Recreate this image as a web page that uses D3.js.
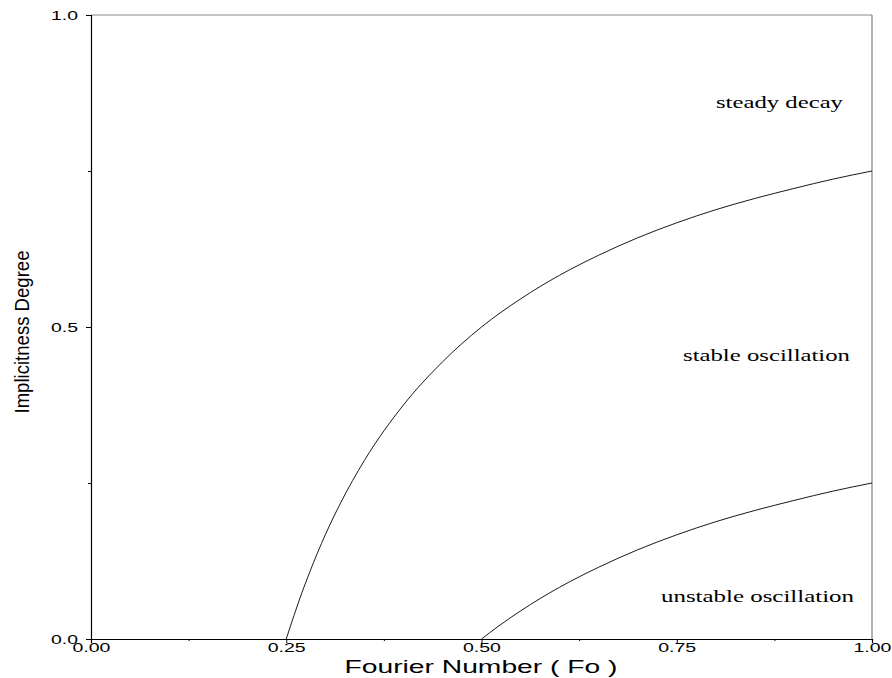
<!DOCTYPE html>
<html><head><meta charset="utf-8">
<script src="https://cdn.jsdelivr.net/npm/d3@7"></script>
<style>body{margin:0;background:#fff}svg{display:block}</style>
</head><body>
<svg id="c" width="892" height="678"></svg>
<script>
// Data
const xTicks = [0, 0.25, 0.5, 0.75, 1.0];
const xTickLabels = ["0.00", "0.25", "0.50", "0.75", "1.00"];
const xMinor = [0.125, 0.375, 0.625, 0.875];
const yTicks = [0, 0.5, 1.0];
const yTickLabels = ["0.0", "0.5", "1.0"];
const yMinor = [0.25, 0.75];
// Upper boundary (steady decay / stable oscillation)
const upperFo = [0.25, 0.26, 0.27, 0.28, 0.29, 0.30, 0.32, 0.35, 0.40, 0.45, 0.50, 0.55, 0.60, 0.65, 0.70, 0.75, 0.80, 0.85, 0.90, 0.95, 1.00];
const upperTheta = [0.0, 0.038, 0.074, 0.107, 0.138, 0.167, 0.219, 0.286, 0.375, 0.444, 0.500, 0.545, 0.583, 0.615, 0.643, 0.667, 0.688, 0.706, 0.722, 0.737, 0.750];
// Lower boundary (stable / unstable oscillation)
const lowerFo = [0.50, 0.52, 0.55, 0.60, 0.65, 0.70, 0.75, 0.80, 0.85, 0.90, 0.95, 1.00];
const lowerTheta = [0.0, 0.019, 0.045, 0.083, 0.115, 0.143, 0.167, 0.188, 0.206, 0.222, 0.237, 0.250];
const regionLabels = ["steady decay", "stable oscillation", "unstable oscillation"];

const svg = d3.select("#c");
const L = 91, R = 872, T = 15, B = 639;
const x = d3.scaleLinear().domain([0, 1]).range([L, R]);
const y = d3.scaleLinear().domain([0, 1]).range([B, T]);

// frame top & right
svg.append("line").attr("x1", L).attr("x2", R).attr("y1", T).attr("y2", T).attr("stroke", "#888").attr("stroke-width", 1);
svg.append("line").attr("x1", R).attr("x2", R).attr("y1", T).attr("y2", B).attr("stroke", "#666").attr("stroke-width", 1);

// x axis
const xa = svg.append("g").attr("transform", `translate(0,${B})`)
  .call(d3.axisBottom(x).tickValues(xTicks).tickSize(4).tickFormat((d, i) => xTickLabels[i]));
xa.select(".domain").attr("stroke", "#000").attr("stroke-width", 1.2);
xa.selectAll("text").attr("font-family", "Liberation Sans, Arial, sans-serif").attr("font-size", 12.5)
  .attr("y", 4).attr("dy", "0.71em").attr("fill", "#000")
  .attr("textLength", 38).attr("lengthAdjust", "spacingAndGlyphs");
svg.append("g").attr("transform", `translate(0,${B})`)
  .call(d3.axisBottom(x).tickValues(xMinor).tickSize(2).tickFormat(""))
  .select(".domain").remove();

// y axis
const ya = svg.append("g").attr("transform", `translate(${L},0)`)
  .call(d3.axisLeft(y).tickValues(yTicks).tickSize(5).tickFormat((d, i) => yTickLabels[i]));
ya.select(".domain").attr("stroke", "#000").attr("stroke-width", 1.2);
ya.selectAll("text").attr("font-family", "Liberation Sans, Arial, sans-serif").attr("font-size", 12.5)
  .attr("x", -13).attr("fill", "#000")
  .attr("textLength", 27).attr("lengthAdjust", "spacingAndGlyphs");
svg.append("g").attr("transform", `translate(${L},0)`)
  .call(d3.axisLeft(y).tickValues(yMinor).tickSize(3).tickFormat(""))
  .select(".domain").remove();

// curves
const line = d3.line().x(d => x(d[0])).y(d => y(d[1])).curve(d3.curveMonotoneX);
svg.append("path").datum(upperFo.map((f, i) => [f, upperTheta[i]]))
  .attr("d", line).attr("fill", "none").attr("stroke", "#000").attr("stroke-width", 0.9);
svg.append("path").datum(lowerFo.map((f, i) => [f, lowerTheta[i]]))
  .attr("d", line).attr("fill", "none").attr("stroke", "#000").attr("stroke-width", 0.9);

// region labels
const regionStartX = [716, 683, 661];
const regionBaseY = [108, 361, 602];
const regionLen = [127, 167, 193];
regionLabels.forEach((t, i) => {
  svg.append("text").attr("x", regionStartX[i]).attr("y", regionBaseY[i])
    .attr("font-family", "Liberation Serif, Times New Roman, serif").attr("font-size", 17)
    .attr("textLength", regionLen[i]).attr("lengthAdjust", "spacingAndGlyphs")
    .attr("fill", "#000").text(t);
});

// axis titles
svg.append("text").attr("x", 481).attr("y", 673).attr("text-anchor", "middle")
  .attr("font-family", "Liberation Sans, Arial, sans-serif").attr("font-size", 18.5)
  .attr("textLength", 273).attr("lengthAdjust", "spacingAndGlyphs")
  .attr("fill", "#000").text("Fourier Number ( Fo )");
svg.append("text").attr("transform", "translate(29,332) rotate(-90)").attr("text-anchor", "middle")
  .attr("font-family", "Liberation Sans Narrow, Liberation Sans, Arial, sans-serif").attr("font-size", 21)
  .attr("textLength", 163).attr("lengthAdjust", "spacingAndGlyphs")
  .attr("fill", "#000").text("Implicitness Degree");
</script>
</body></html>
